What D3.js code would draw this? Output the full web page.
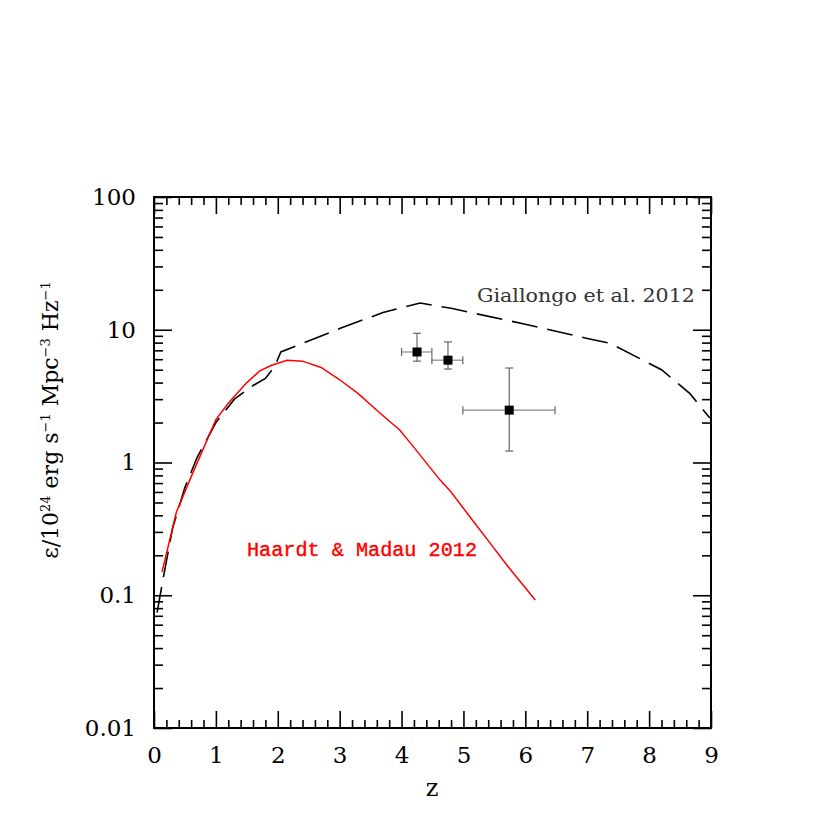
<!DOCTYPE html>
<html>
  <head>
    <meta charset="utf-8" />
    <script src="https://d3js.org/d3.v7.min.js"></script>
    <style>
        body {margin: 0; background: #fff;}
        text {font-family: "DejaVu Serif", serif;}
    </style>
  </head>
  <body>
    <svg id="viz" width="830" height="830"></svg>
    <script>
        // Haardt & Madau 2012 emissivity (red curve)
        var hmZ   = [0.13, 0.36, 0.61, 1.0, 1.2, 1.5, 1.71, 1.9, 2.15, 2.4, 2.7, 3.0, 3.3, 3.65, 3.97, 4.2, 4.62, 4.8, 5.14, 5.4, 5.7, 6.16];
        var hmEps = [0.15, 0.42, 0.8, 2.1, 2.8, 4.0, 4.9, 5.4, 5.9, 5.8, 5.2, 4.2, 3.3, 2.36, 1.76, 1.3, 0.74, 0.6, 0.37, 0.258, 0.169, 0.092];

        // Giallongo et al. 2012 (dashed curve)
        var giZ   = [0.05, 0.15, 0.3, 0.5, 0.7, 1.0, 1.3, 1.6, 1.8, 1.95, 2.05, 3.0, 3.7, 4.3, 4.8, 6.0, 7.0, 7.37, 8.2, 8.66, 8.98];
        var giEps = [0.074, 0.135, 0.32, 0.65, 1.1, 2.0, 3.0, 3.8, 4.3, 5.3, 6.8, 10.2, 13.5, 15.9, 14.5, 11.0, 8.6, 7.9, 5.0, 3.3, 2.16];

        // data points with errors
        var ptZ    = [4.25, 4.75, 5.74];
        var ptZlo  = [4.0, 4.49, 4.99];
        var ptZhi  = [4.49, 4.99, 6.48];
        var ptEps  = [6.8, 5.9, 2.48];
        var ptElo  = [5.8, 5.06, 1.22];
        var ptEhi  = [9.4, 8.1, 5.15];

        var xTicks = [0, 1, 2, 3, 4, 5, 6, 7, 8, 9];
        var yTicks = [0.01, 0.1, 1, 10, 100];
        var yTickLabels = ["0.01", "0.1", "1", "10", "100"];

        var pLeft = 154, pRight = 711, pTop = 197, pBottom = 728;

        var svg = d3.select("#viz");

        var x = d3.scaleLinear().domain([0, 9]).range([pLeft, pRight]);
        var y = d3.scaleLog().domain([0.01, 100]).range([pBottom, pTop]);

        // minor ticks
        var xMinor = d3.range(0, 9.001, 0.2).filter(function(v) { return Math.abs(v - Math.round(v)) > 1e-6; });
        var yMinor = [];
        [0.01, 0.1, 1, 10].forEach(function(d) {
            for (var k = 2; k <= 9; k++) yMinor.push(d * k);
        });

        function styleAxis(g) {
            g.select(".domain").remove();
            g.selectAll("line").attr("stroke", "#000").attr("stroke-width", 1.6);
            g.selectAll("text").attr("font-family", "DejaVu Serif").attr("font-size", 23).attr("fill", "#000");
        }

        // bottom axis (ticks inward)
        svg.append("g").attr("transform", "translate(0," + pBottom + ")")
            .call(d3.axisBottom(x).tickValues(xTicks).tickSize(-17).tickPadding(19).tickFormat(d3.format("d")))
            .call(styleAxis);
        svg.append("g").attr("transform", "translate(0," + pBottom + ")")
            .call(d3.axisBottom(x).tickValues(xMinor).tickSize(-8).tickFormat(""))
            .call(styleAxis);
        // top axis
        svg.append("g").attr("transform", "translate(0," + pTop + ")")
            .call(d3.axisTop(x).tickValues(xTicks).tickSize(-17).tickFormat(""))
            .call(styleAxis);
        svg.append("g").attr("transform", "translate(0," + pTop + ")")
            .call(d3.axisTop(x).tickValues(xMinor).tickSize(-8).tickFormat(""))
            .call(styleAxis);
        // left axis
        svg.append("g").attr("transform", "translate(" + pLeft + ",0)")
            .call(d3.axisLeft(y).tickValues(yTicks).tickSize(-18).tickPadding(18)
                .tickFormat(function(d, i) { return yTickLabels[i]; }))
            .call(styleAxis);
        svg.append("g").attr("transform", "translate(" + pLeft + ",0)")
            .call(d3.axisLeft(y).tickValues(yMinor).tickSize(-9).tickFormat(""))
            .call(styleAxis);
        // right axis
        svg.append("g").attr("transform", "translate(" + pRight + ",0)")
            .call(d3.axisRight(y).tickValues(yTicks).tickSize(-18).tickFormat(""))
            .call(styleAxis);
        svg.append("g").attr("transform", "translate(" + pRight + ",0)")
            .call(d3.axisRight(y).tickValues(yMinor).tickSize(-9).tickFormat(""))
            .call(styleAxis);

        // frame
        svg.append("rect")
            .attr("x", pLeft).attr("y", pTop)
            .attr("width", pRight - pLeft).attr("height", pBottom - pTop)
            .attr("fill", "none").attr("stroke", "#000").attr("stroke-width", 2);

        svg.append("clipPath").attr("id", "clip")
            .append("rect").attr("x", pLeft).attr("y", pTop)
            .attr("width", pRight - pLeft).attr("height", pBottom - pTop);

        var plot = svg.append("g").attr("clip-path", "url(#clip)");

        var line = d3.line()
            .x(function(d) { return x(d[0]); })
            .y(function(d) { return y(d[1]); });

        plot.append("path")
            .datum(d3.zip(giZ, giEps))
            .attr("d", line)
            .attr("fill", "none")
            .attr("stroke", "#000")
            .attr("stroke-width", 1.6)
            .attr("stroke-dasharray", "26,10");

        plot.append("path")
            .datum(d3.zip(hmZ, hmEps))
            .attr("d", line)
            .attr("fill", "none")
            .attr("stroke", "#ff0000")
            .attr("stroke-width", 1.5);

        // error bars
        var pts = ptZ.map(function(z, i) {
            return {z: z, zlo: ptZlo[i], zhi: ptZhi[i], e: ptEps[i], elo: ptElo[i], ehi: ptEhi[i]};
        });
        var eb = plot.selectAll(".pt").data(pts).enter().append("g").attr("class", "pt");
        var cap = 4;
        eb.append("line")
            .attr("x1", function(d) { return x(d.zlo); }).attr("x2", function(d) { return x(d.zhi); })
            .attr("y1", function(d) { return y(d.e); }).attr("y2", function(d) { return y(d.e); })
            .attr("stroke", "#888").attr("stroke-width", 1.2);
        eb.append("line")
            .attr("x1", function(d) { return x(d.z); }).attr("x2", function(d) { return x(d.z); })
            .attr("y1", function(d) { return y(d.elo); }).attr("y2", function(d) { return y(d.ehi); })
            .attr("stroke", "#666").attr("stroke-width", 1.2);
        // caps
        eb.append("line")
            .attr("x1", function(d) { return x(d.zlo); }).attr("x2", function(d) { return x(d.zlo); })
            .attr("y1", function(d) { return y(d.e) - cap; }).attr("y2", function(d) { return y(d.e) + cap; })
            .attr("stroke", "#666").attr("stroke-width", 1.2);
        eb.append("line")
            .attr("x1", function(d) { return x(d.zhi); }).attr("x2", function(d) { return x(d.zhi); })
            .attr("y1", function(d) { return y(d.e) - cap; }).attr("y2", function(d) { return y(d.e) + cap; })
            .attr("stroke", "#666").attr("stroke-width", 1.2);
        eb.append("line")
            .attr("x1", function(d) { return x(d.z) - cap; }).attr("x2", function(d) { return x(d.z) + cap; })
            .attr("y1", function(d) { return y(d.elo); }).attr("y2", function(d) { return y(d.elo); })
            .attr("stroke", "#666").attr("stroke-width", 1.2);
        eb.append("line")
            .attr("x1", function(d) { return x(d.z) - cap; }).attr("x2", function(d) { return x(d.z) + cap; })
            .attr("y1", function(d) { return y(d.ehi); }).attr("y2", function(d) { return y(d.ehi); })
            .attr("stroke", "#666").attr("stroke-width", 1.2);
        eb.append("rect")
            .attr("x", function(d) { return x(d.z) - 4.5; })
            .attr("y", function(d) { return y(d.e) - 4.5; })
            .attr("width", 9).attr("height", 9)
            .attr("fill", "#000");

        // labels
        svg.append("text")
            .attr("x", 477).attr("y", 302)
            .attr("font-family", "DejaVu Serif").attr("font-size", 18)
            .attr("textLength", 218).attr("lengthAdjust", "spacingAndGlyphs")
            .attr("fill", "#333")
            .text("Giallongo et al. 2012");

        svg.append("text")
            .attr("x", 247).attr("y", 556)
            .style("font-family", "'Liberation Mono', monospace").attr("font-size", 20)
            .attr("stroke", "#ff0000").attr("stroke-width", 0.4)
            .attr("textLength", 230).attr("lengthAdjust", "spacingAndGlyphs")
            .attr("fill", "#ff0000")
            .text("Haardt & Madau 2012");

        svg.append("text")
            .attr("x", 432).attr("y", 796)
            .attr("text-anchor", "middle")
            .attr("font-family", "DejaVu Serif").attr("font-size", 24)
            .text("z");

        var yl = svg.append("text")
            .attr("transform", "translate(58,420) rotate(-90)")
            .attr("text-anchor", "middle")
            .attr("font-family", "DejaVu Serif").attr("font-size", 22);
        yl.append("tspan").text("\u03b5/10");
        yl.append("tspan").attr("font-size", 13).attr("dy", -8).text("24");
        yl.append("tspan").attr("dy", 8).text(" erg s");
        yl.append("tspan").attr("font-size", 13).attr("dy", -8).text("\u22121");
        yl.append("tspan").attr("dy", 8).text(" Mpc");
        yl.append("tspan").attr("font-size", 13).attr("dy", -8).text("\u22123");
        yl.append("tspan").attr("dy", 8).text(" Hz");
        yl.append("tspan").attr("font-size", 13).attr("dy", -8).text("\u22121");
    </script>
  </body>
</html>
